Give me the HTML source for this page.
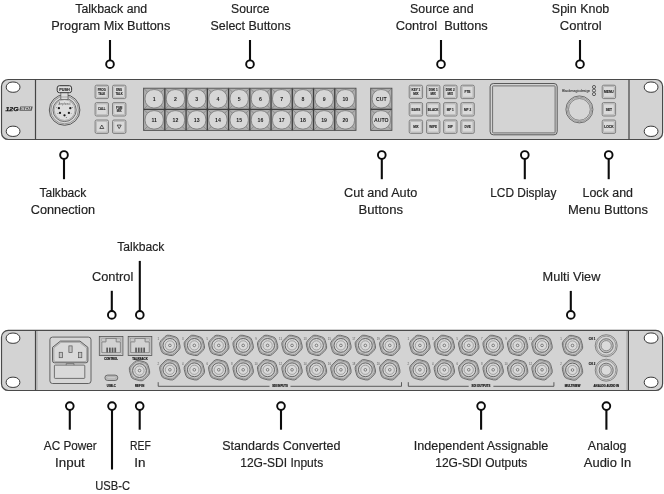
<!DOCTYPE html>
<html><head><meta charset="utf-8"><title>Front and rear panel</title>
<style>
html,body{margin:0;padding:0;background:#fff;}
body{width:664px;height:494px;overflow:hidden;font-family:"Liberation Sans",sans-serif;}
svg{display:block;will-change:transform;transform:translateZ(0);}
.lb{font-family:"Liberation Sans",sans-serif;font-size:12.5px;fill:#222;stroke:#222;stroke-width:0.18px;}
.bt{font-family:"Liberation Sans",sans-serif;font-weight:bold;fill:#1e1e1e;stroke:#1e1e1e;stroke-width:0.12px;text-anchor:middle;}
.bb{font-family:"Liberation Sans",sans-serif;font-weight:bold;fill:#1a1a1a;text-anchor:middle;}
.rt{font-family:"Liberation Sans",sans-serif;font-weight:bold;font-size:2.8px;fill:#1a1a1a;stroke:#1a1a1a;stroke-width:0.18px;text-anchor:middle;}
.nt{font-family:"Liberation Sans",sans-serif;font-size:2.8px;fill:#555;text-anchor:middle;}
</style></head><body>
<svg width="664" height="494" viewBox="0 0 664 494">
<rect width="664" height="494" fill="#fff"/>
<rect x="1.5" y="79.5" width="661.1" height="60.0" rx="6.8" fill="#d3d3d3" stroke="#4a4a4a" stroke-width="1.2"/>
<line x1="35.5" y1="79.5" x2="35.5" y2="139.5" stroke="#444" stroke-width="1.2"/>
<line x1="629.0" y1="79.5" x2="629.0" y2="139.5" stroke="#444" stroke-width="1.2"/>
<rect x="6.20" y="82.05" width="13.8" height="10.2" rx="6" ry="5.1" fill="#fff" stroke="#383838" stroke-width="1.0"/>
<rect x="6.20" y="126.20" width="13.8" height="10.2" rx="6" ry="5.1" fill="#fff" stroke="#383838" stroke-width="1.0"/>
<rect x="644.20" y="82.05" width="13.8" height="10.2" rx="6" ry="5.1" fill="#fff" stroke="#383838" stroke-width="1.0"/>
<rect x="644.20" y="126.20" width="13.8" height="10.2" rx="6" ry="5.1" fill="#fff" stroke="#383838" stroke-width="1.0"/>
<text x="5.4" y="110.9" font-size="6.1" font-weight="bold" font-style="italic" fill="#111" stroke="#111" stroke-width="0.25" textLength="13.2" lengthAdjust="spacingAndGlyphs" font-family="Liberation Sans">12G</text>
<polygon points="20.3,106.4 32.7,106.4 31.7,110.8 19.3,110.8" fill="#5a5a5a"/>
<text x="20.6" y="110.2" font-size="4.2" font-weight="bold" font-style="italic" fill="#d8d8d8" textLength="10.4" lengthAdjust="spacingAndGlyphs" font-family="Liberation Sans">SDI</text>
<circle cx="64.6" cy="110.0" r="15.3" fill="#d6d6d6" stroke="#4a4a4a" stroke-width="0.9"/>
<circle cx="64.6" cy="110.0" r="13.8" fill="#d9d9d9" stroke="#6a6a6a" stroke-width="0.6"/>
<circle cx="64.6" cy="110.0" r="11.6" fill="#d4d4d4" stroke="#555" stroke-width="0.8"/>
<circle cx="64.6" cy="110.0" r="10.4" fill="#dddddd" stroke="#808080" stroke-width="0.5"/>
<path d="M60.8,92.4 v7.1 h7.2 v-7.1" fill="#dcdcdc" stroke="#555" stroke-width="0.7"/>
<path d="M60.8,97.0 h7.2" fill="none" stroke="#777" stroke-width="0.5"/>
<rect x="57.2" y="85.7" width="14.4" height="7.0" rx="2.2" fill="#dedede" stroke="#333" stroke-width="1.0"/>
<text x="64.5" y="90.6" class="bt" font-size="3.8">PUSH</text>
<text x="64.4" y="104.5" text-anchor="middle" font-size="2.6" fill="#555" font-family="Liberation Sans">Amphenol</text>
<circle cx="58.9" cy="108.2" r="1.15" fill="#1c1c1c"/>
<circle cx="70.3" cy="108.2" r="1.15" fill="#1c1c1c"/>
<circle cx="60.0" cy="112.9" r="1.15" fill="#1c1c1c"/>
<circle cx="68.9" cy="112.9" r="1.15" fill="#1c1c1c"/>
<circle cx="64.5" cy="115.3" r="1.15" fill="#1c1c1c"/>
<text x="56.6" y="107.6" text-anchor="middle" font-size="2.2" fill="#444" font-family="Liberation Sans">1</text>
<text x="72.4" y="107.6" text-anchor="middle" font-size="2.2" fill="#444" font-family="Liberation Sans">5</text>
<text x="57.8" y="113.6" text-anchor="middle" font-size="2.2" fill="#444" font-family="Liberation Sans">2</text>
<text x="71.2" y="113.6" text-anchor="middle" font-size="2.2" fill="#444" font-family="Liberation Sans">4</text>
<text x="66.4" y="118.2" text-anchor="middle" font-size="2.2" fill="#444" font-family="Liberation Sans">3</text>
<rect x="95.10" y="85.20" width="13.4" height="13.4" rx="1.5" fill="#d2d2d2" stroke="#666" stroke-width="0.75"/>
<rect x="96.40" y="86.50" width="10.8" height="10.8" rx="0.8" fill="#dadada" stroke="#969696" stroke-width="0.45"/>
<rect x="95.10" y="102.60" width="13.4" height="13.4" rx="1.5" fill="#d2d2d2" stroke="#666" stroke-width="0.75"/>
<rect x="96.40" y="103.90" width="10.8" height="10.8" rx="0.8" fill="#dadada" stroke="#969696" stroke-width="0.45"/>
<rect x="95.10" y="120.00" width="13.4" height="13.4" rx="1.5" fill="#d2d2d2" stroke="#666" stroke-width="0.75"/>
<rect x="96.40" y="121.30" width="10.8" height="10.8" rx="0.8" fill="#dadada" stroke="#969696" stroke-width="0.45"/>
<rect x="112.50" y="85.20" width="13.4" height="13.4" rx="1.5" fill="#d2d2d2" stroke="#666" stroke-width="0.75"/>
<rect x="113.80" y="86.50" width="10.8" height="10.8" rx="0.8" fill="#dadada" stroke="#969696" stroke-width="0.45"/>
<rect x="112.50" y="102.60" width="13.4" height="13.4" rx="1.5" fill="#d2d2d2" stroke="#666" stroke-width="0.75"/>
<rect x="113.80" y="103.90" width="10.8" height="10.8" rx="0.8" fill="#dadada" stroke="#969696" stroke-width="0.45"/>
<rect x="112.50" y="120.00" width="13.4" height="13.4" rx="1.5" fill="#d2d2d2" stroke="#666" stroke-width="0.75"/>
<rect x="113.80" y="121.30" width="10.8" height="10.8" rx="0.8" fill="#dadada" stroke="#969696" stroke-width="0.45"/>
<text x="101.80" y="91.29" class="bt" font-size="3.3" transform="translate(101.80 0) scale(0.83 1) translate(-101.80 0)">PROG</text>
<text x="101.80" y="94.89" class="bt" font-size="3.3" transform="translate(101.80 0) scale(0.83 1) translate(-101.80 0)">TALK</text>
<text x="119.20" y="91.29" class="bt" font-size="3.3" transform="translate(119.20 0) scale(0.83 1) translate(-119.20 0)">ENG</text>
<text x="119.20" y="94.89" class="bt" font-size="3.3" transform="translate(119.20 0) scale(0.83 1) translate(-119.20 0)">TALK</text>
<text x="101.80" y="110.49" class="bt" font-size="3.3" transform="translate(101.80 0) scale(0.85 1) translate(-101.80 0)">CALL</text>
<text x="119.20" y="108.69" class="bt" font-size="3.3" transform="translate(119.20 0) scale(0.83 1) translate(-119.20 0)">PGM</text>
<text x="119.20" y="112.29" class="bt" font-size="3.3" transform="translate(119.20 0) scale(0.83 1) translate(-119.20 0)">MIX</text>
<path d="M101.8,125.0 l2.0,3.5 h-4.0 z" fill="none" stroke="#222" stroke-width="0.7"/>
<path d="M119.2,128.6 l2.0,-3.5 h-4.0 z" fill="none" stroke="#222" stroke-width="0.7"/>
<rect x="143.60" y="88.20" width="21.24" height="21.10" fill="#aeaeae"/>
<path d="M143.60,88.20 l21.24,21.10 M164.84,88.20 l-21.24,21.10" stroke="#6a6a6a" stroke-width="0.5" fill="none"/>
<rect x="145.10" y="89.60" width="18.24" height="18.30" rx="8.4" fill="#d6d6d6" stroke="#6c6c6c" stroke-width="0.7"/>
<text x="154.22" y="100.62" class="bb" font-size="5.2">1</text>
<rect x="164.84" y="88.20" width="21.24" height="21.10" fill="#aeaeae"/>
<path d="M164.84,88.20 l21.24,21.10 M186.08,88.20 l-21.24,21.10" stroke="#6a6a6a" stroke-width="0.5" fill="none"/>
<rect x="166.34" y="89.60" width="18.24" height="18.30" rx="8.4" fill="#d6d6d6" stroke="#6c6c6c" stroke-width="0.7"/>
<text x="175.46" y="100.62" class="bb" font-size="5.2">2</text>
<rect x="186.08" y="88.20" width="21.24" height="21.10" fill="#aeaeae"/>
<path d="M186.08,88.20 l21.24,21.10 M207.32,88.20 l-21.24,21.10" stroke="#6a6a6a" stroke-width="0.5" fill="none"/>
<rect x="187.58" y="89.60" width="18.24" height="18.30" rx="8.4" fill="#d6d6d6" stroke="#6c6c6c" stroke-width="0.7"/>
<text x="196.70" y="100.62" class="bb" font-size="5.2">3</text>
<rect x="207.32" y="88.20" width="21.24" height="21.10" fill="#aeaeae"/>
<path d="M207.32,88.20 l21.24,21.10 M228.56,88.20 l-21.24,21.10" stroke="#6a6a6a" stroke-width="0.5" fill="none"/>
<rect x="208.82" y="89.60" width="18.24" height="18.30" rx="8.4" fill="#d6d6d6" stroke="#6c6c6c" stroke-width="0.7"/>
<text x="217.94" y="100.62" class="bb" font-size="5.2">4</text>
<rect x="228.56" y="88.20" width="21.24" height="21.10" fill="#aeaeae"/>
<path d="M228.56,88.20 l21.24,21.10 M249.80,88.20 l-21.24,21.10" stroke="#6a6a6a" stroke-width="0.5" fill="none"/>
<rect x="230.06" y="89.60" width="18.24" height="18.30" rx="8.4" fill="#d6d6d6" stroke="#6c6c6c" stroke-width="0.7"/>
<text x="239.18" y="100.62" class="bb" font-size="5.2">5</text>
<rect x="249.80" y="88.20" width="21.24" height="21.10" fill="#aeaeae"/>
<path d="M249.80,88.20 l21.24,21.10 M271.04,88.20 l-21.24,21.10" stroke="#6a6a6a" stroke-width="0.5" fill="none"/>
<rect x="251.30" y="89.60" width="18.24" height="18.30" rx="8.4" fill="#d6d6d6" stroke="#6c6c6c" stroke-width="0.7"/>
<text x="260.42" y="100.62" class="bb" font-size="5.2">6</text>
<rect x="271.04" y="88.20" width="21.24" height="21.10" fill="#aeaeae"/>
<path d="M271.04,88.20 l21.24,21.10 M292.28,88.20 l-21.24,21.10" stroke="#6a6a6a" stroke-width="0.5" fill="none"/>
<rect x="272.54" y="89.60" width="18.24" height="18.30" rx="8.4" fill="#d6d6d6" stroke="#6c6c6c" stroke-width="0.7"/>
<text x="281.66" y="100.62" class="bb" font-size="5.2">7</text>
<rect x="292.28" y="88.20" width="21.24" height="21.10" fill="#aeaeae"/>
<path d="M292.28,88.20 l21.24,21.10 M313.52,88.20 l-21.24,21.10" stroke="#6a6a6a" stroke-width="0.5" fill="none"/>
<rect x="293.78" y="89.60" width="18.24" height="18.30" rx="8.4" fill="#d6d6d6" stroke="#6c6c6c" stroke-width="0.7"/>
<text x="302.90" y="100.62" class="bb" font-size="5.2">8</text>
<rect x="313.52" y="88.20" width="21.24" height="21.10" fill="#aeaeae"/>
<path d="M313.52,88.20 l21.24,21.10 M334.76,88.20 l-21.24,21.10" stroke="#6a6a6a" stroke-width="0.5" fill="none"/>
<rect x="315.02" y="89.60" width="18.24" height="18.30" rx="8.4" fill="#d6d6d6" stroke="#6c6c6c" stroke-width="0.7"/>
<text x="324.14" y="100.62" class="bb" font-size="5.2">9</text>
<rect x="334.76" y="88.20" width="21.24" height="21.10" fill="#aeaeae"/>
<path d="M334.76,88.20 l21.24,21.10 M356.00,88.20 l-21.24,21.10" stroke="#6a6a6a" stroke-width="0.5" fill="none"/>
<rect x="336.26" y="89.60" width="18.24" height="18.30" rx="8.4" fill="#d6d6d6" stroke="#6c6c6c" stroke-width="0.7"/>
<text x="345.38" y="100.62" class="bb" font-size="5.2">10</text>
<rect x="143.60" y="109.30" width="21.24" height="21.10" fill="#aeaeae"/>
<path d="M143.60,109.30 l21.24,21.10 M164.84,109.30 l-21.24,21.10" stroke="#6a6a6a" stroke-width="0.5" fill="none"/>
<rect x="145.10" y="110.70" width="18.24" height="18.30" rx="8.4" fill="#d6d6d6" stroke="#6c6c6c" stroke-width="0.7"/>
<text x="154.22" y="121.72" class="bb" font-size="5.2">11</text>
<rect x="164.84" y="109.30" width="21.24" height="21.10" fill="#aeaeae"/>
<path d="M164.84,109.30 l21.24,21.10 M186.08,109.30 l-21.24,21.10" stroke="#6a6a6a" stroke-width="0.5" fill="none"/>
<rect x="166.34" y="110.70" width="18.24" height="18.30" rx="8.4" fill="#d6d6d6" stroke="#6c6c6c" stroke-width="0.7"/>
<text x="175.46" y="121.72" class="bb" font-size="5.2">12</text>
<rect x="186.08" y="109.30" width="21.24" height="21.10" fill="#aeaeae"/>
<path d="M186.08,109.30 l21.24,21.10 M207.32,109.30 l-21.24,21.10" stroke="#6a6a6a" stroke-width="0.5" fill="none"/>
<rect x="187.58" y="110.70" width="18.24" height="18.30" rx="8.4" fill="#d6d6d6" stroke="#6c6c6c" stroke-width="0.7"/>
<text x="196.70" y="121.72" class="bb" font-size="5.2">13</text>
<rect x="207.32" y="109.30" width="21.24" height="21.10" fill="#aeaeae"/>
<path d="M207.32,109.30 l21.24,21.10 M228.56,109.30 l-21.24,21.10" stroke="#6a6a6a" stroke-width="0.5" fill="none"/>
<rect x="208.82" y="110.70" width="18.24" height="18.30" rx="8.4" fill="#d6d6d6" stroke="#6c6c6c" stroke-width="0.7"/>
<text x="217.94" y="121.72" class="bb" font-size="5.2">14</text>
<rect x="228.56" y="109.30" width="21.24" height="21.10" fill="#aeaeae"/>
<path d="M228.56,109.30 l21.24,21.10 M249.80,109.30 l-21.24,21.10" stroke="#6a6a6a" stroke-width="0.5" fill="none"/>
<rect x="230.06" y="110.70" width="18.24" height="18.30" rx="8.4" fill="#d6d6d6" stroke="#6c6c6c" stroke-width="0.7"/>
<text x="239.18" y="121.72" class="bb" font-size="5.2">15</text>
<rect x="249.80" y="109.30" width="21.24" height="21.10" fill="#aeaeae"/>
<path d="M249.80,109.30 l21.24,21.10 M271.04,109.30 l-21.24,21.10" stroke="#6a6a6a" stroke-width="0.5" fill="none"/>
<rect x="251.30" y="110.70" width="18.24" height="18.30" rx="8.4" fill="#d6d6d6" stroke="#6c6c6c" stroke-width="0.7"/>
<text x="260.42" y="121.72" class="bb" font-size="5.2">16</text>
<rect x="271.04" y="109.30" width="21.24" height="21.10" fill="#aeaeae"/>
<path d="M271.04,109.30 l21.24,21.10 M292.28,109.30 l-21.24,21.10" stroke="#6a6a6a" stroke-width="0.5" fill="none"/>
<rect x="272.54" y="110.70" width="18.24" height="18.30" rx="8.4" fill="#d6d6d6" stroke="#6c6c6c" stroke-width="0.7"/>
<text x="281.66" y="121.72" class="bb" font-size="5.2">17</text>
<rect x="292.28" y="109.30" width="21.24" height="21.10" fill="#aeaeae"/>
<path d="M292.28,109.30 l21.24,21.10 M313.52,109.30 l-21.24,21.10" stroke="#6a6a6a" stroke-width="0.5" fill="none"/>
<rect x="293.78" y="110.70" width="18.24" height="18.30" rx="8.4" fill="#d6d6d6" stroke="#6c6c6c" stroke-width="0.7"/>
<text x="302.90" y="121.72" class="bb" font-size="5.2">18</text>
<rect x="313.52" y="109.30" width="21.24" height="21.10" fill="#aeaeae"/>
<path d="M313.52,109.30 l21.24,21.10 M334.76,109.30 l-21.24,21.10" stroke="#6a6a6a" stroke-width="0.5" fill="none"/>
<rect x="315.02" y="110.70" width="18.24" height="18.30" rx="8.4" fill="#d6d6d6" stroke="#6c6c6c" stroke-width="0.7"/>
<text x="324.14" y="121.72" class="bb" font-size="5.2">19</text>
<rect x="334.76" y="109.30" width="21.24" height="21.10" fill="#aeaeae"/>
<path d="M334.76,109.30 l21.24,21.10 M356.00,109.30 l-21.24,21.10" stroke="#6a6a6a" stroke-width="0.5" fill="none"/>
<rect x="336.26" y="110.70" width="18.24" height="18.30" rx="8.4" fill="#d6d6d6" stroke="#6c6c6c" stroke-width="0.7"/>
<text x="345.38" y="121.72" class="bb" font-size="5.2">20</text>
<path d="M164.84,88.2 V130.4 M186.08,88.2 V130.4 M207.32,88.2 V130.4 M228.56,88.2 V130.4 M249.80,88.2 V130.4 M271.04,88.2 V130.4 M292.28,88.2 V130.4 M313.52,88.2 V130.4 M334.76,88.2 V130.4 M143.6,109.3 H356.0" stroke="#3e3e3e" stroke-width="1.3" fill="none"/>
<rect x="143.6" y="88.2" width="212.40" height="42.20" fill="none" stroke="#505050" stroke-width="0.9"/>
<rect x="370.70" y="88.20" width="21.20" height="21.10" fill="#aeaeae"/>
<path d="M370.70,88.20 l21.20,21.10 M391.90,88.20 l-21.20,21.10" stroke="#6a6a6a" stroke-width="0.5" fill="none"/>
<rect x="372.20" y="89.60" width="18.20" height="18.30" rx="8.4" fill="#d6d6d6" stroke="#6c6c6c" stroke-width="0.7"/>
<text x="381.30" y="100.62" class="bb" font-size="5.2">CUT</text>
<rect x="370.70" y="109.30" width="21.20" height="21.10" fill="#aeaeae"/>
<path d="M370.70,109.30 l21.20,21.10 M391.90,109.30 l-21.20,21.10" stroke="#6a6a6a" stroke-width="0.5" fill="none"/>
<rect x="372.20" y="110.70" width="18.20" height="18.30" rx="8.4" fill="#d6d6d6" stroke="#6c6c6c" stroke-width="0.7"/>
<text x="381.30" y="121.72" class="bb" font-size="5.2">AUTO</text>
<path d="M370.7,109.3 h21.2" stroke="#3e3e3e" stroke-width="1.3" fill="none"/>
<rect x="370.7" y="88.2" width="21.2" height="42.20" fill="none" stroke="#505050" stroke-width="0.9"/>
<rect x="409.20" y="85.20" width="13.4" height="13.4" rx="1.5" fill="#d2d2d2" stroke="#666" stroke-width="0.75"/>
<rect x="410.50" y="86.50" width="10.8" height="10.8" rx="0.8" fill="#dadada" stroke="#969696" stroke-width="0.45"/>
<text x="415.90" y="91.32" class="bt" font-size="3.4" transform="translate(415.90 0) scale(0.9 1) translate(-415.90 0)">KEY 1</text>
<text x="415.90" y="94.92" class="bt" font-size="3.4" transform="translate(415.90 0) scale(0.9 1) translate(-415.90 0)">MIX</text>
<rect x="426.50" y="85.20" width="13.4" height="13.4" rx="1.5" fill="#d2d2d2" stroke="#666" stroke-width="0.75"/>
<rect x="427.80" y="86.50" width="10.8" height="10.8" rx="0.8" fill="#dadada" stroke="#969696" stroke-width="0.45"/>
<text x="433.20" y="91.32" class="bt" font-size="3.4" transform="translate(433.20 0) scale(0.9 1) translate(-433.20 0)">DSK 1</text>
<text x="433.20" y="94.92" class="bt" font-size="3.4" transform="translate(433.20 0) scale(0.9 1) translate(-433.20 0)">MIX</text>
<rect x="443.60" y="85.20" width="13.4" height="13.4" rx="1.5" fill="#d2d2d2" stroke="#666" stroke-width="0.75"/>
<rect x="444.90" y="86.50" width="10.8" height="10.8" rx="0.8" fill="#dadada" stroke="#969696" stroke-width="0.45"/>
<text x="450.30" y="91.32" class="bt" font-size="3.4" transform="translate(450.30 0) scale(0.9 1) translate(-450.30 0)">DSK 2</text>
<text x="450.30" y="94.92" class="bt" font-size="3.4" transform="translate(450.30 0) scale(0.9 1) translate(-450.30 0)">MIX</text>
<rect x="460.90" y="85.20" width="13.4" height="13.4" rx="1.5" fill="#d2d2d2" stroke="#666" stroke-width="0.75"/>
<rect x="462.20" y="86.50" width="10.8" height="10.8" rx="0.8" fill="#dadada" stroke="#969696" stroke-width="0.45"/>
<text x="467.60" y="93.12" class="bt" font-size="3.4" transform="translate(467.60 0) scale(0.9 1) translate(-467.60 0)">FTB</text>
<rect x="409.20" y="102.60" width="13.4" height="13.4" rx="1.5" fill="#d2d2d2" stroke="#666" stroke-width="0.75"/>
<rect x="410.50" y="103.90" width="10.8" height="10.8" rx="0.8" fill="#dadada" stroke="#969696" stroke-width="0.45"/>
<text x="415.90" y="110.52" class="bt" font-size="3.4" transform="translate(415.90 0) scale(0.9 1) translate(-415.90 0)">BARS</text>
<rect x="426.50" y="102.60" width="13.4" height="13.4" rx="1.5" fill="#d2d2d2" stroke="#666" stroke-width="0.75"/>
<rect x="427.80" y="103.90" width="10.8" height="10.8" rx="0.8" fill="#dadada" stroke="#969696" stroke-width="0.45"/>
<text x="433.20" y="110.52" class="bt" font-size="3.4" transform="translate(433.20 0) scale(0.9 1) translate(-433.20 0)">BLACK</text>
<rect x="443.60" y="102.60" width="13.4" height="13.4" rx="1.5" fill="#d2d2d2" stroke="#666" stroke-width="0.75"/>
<rect x="444.90" y="103.90" width="10.8" height="10.8" rx="0.8" fill="#dadada" stroke="#969696" stroke-width="0.45"/>
<text x="450.30" y="110.52" class="bt" font-size="3.4" transform="translate(450.30 0) scale(0.9 1) translate(-450.30 0)">MP 1</text>
<rect x="460.90" y="102.60" width="13.4" height="13.4" rx="1.5" fill="#d2d2d2" stroke="#666" stroke-width="0.75"/>
<rect x="462.20" y="103.90" width="10.8" height="10.8" rx="0.8" fill="#dadada" stroke="#969696" stroke-width="0.45"/>
<text x="467.60" y="110.52" class="bt" font-size="3.4" transform="translate(467.60 0) scale(0.9 1) translate(-467.60 0)">MP 2</text>
<rect x="409.20" y="120.00" width="13.4" height="13.4" rx="1.5" fill="#d2d2d2" stroke="#666" stroke-width="0.75"/>
<rect x="410.50" y="121.30" width="10.8" height="10.8" rx="0.8" fill="#dadada" stroke="#969696" stroke-width="0.45"/>
<text x="415.90" y="127.92" class="bt" font-size="3.4" transform="translate(415.90 0) scale(0.9 1) translate(-415.90 0)">MIX</text>
<rect x="426.50" y="120.00" width="13.4" height="13.4" rx="1.5" fill="#d2d2d2" stroke="#666" stroke-width="0.75"/>
<rect x="427.80" y="121.30" width="10.8" height="10.8" rx="0.8" fill="#dadada" stroke="#969696" stroke-width="0.45"/>
<text x="433.20" y="127.92" class="bt" font-size="3.4" transform="translate(433.20 0) scale(0.9 1) translate(-433.20 0)">WIPE</text>
<rect x="443.60" y="120.00" width="13.4" height="13.4" rx="1.5" fill="#d2d2d2" stroke="#666" stroke-width="0.75"/>
<rect x="444.90" y="121.30" width="10.8" height="10.8" rx="0.8" fill="#dadada" stroke="#969696" stroke-width="0.45"/>
<text x="450.30" y="127.92" class="bt" font-size="3.4" transform="translate(450.30 0) scale(0.9 1) translate(-450.30 0)">DIP</text>
<rect x="460.90" y="120.00" width="13.4" height="13.4" rx="1.5" fill="#d2d2d2" stroke="#666" stroke-width="0.75"/>
<rect x="462.20" y="121.30" width="10.8" height="10.8" rx="0.8" fill="#dadada" stroke="#969696" stroke-width="0.45"/>
<text x="467.60" y="127.92" class="bt" font-size="3.4" transform="translate(467.60 0) scale(0.9 1) translate(-467.60 0)">DVE</text>
<rect x="490.1" y="83.5" width="67.1" height="51.3" rx="3.2" fill="#d2d2d2" stroke="#4c4c4c" stroke-width="0.9"/>
<rect x="492.6" y="85.9" width="62.5" height="47.0" rx="0.7" fill="#d4d4d4" stroke="#555" stroke-width="0.8"/>
<text x="562" y="92.0" font-size="4.4" fill="#333" stroke="#333" stroke-width="0.08" textLength="28.3" lengthAdjust="spacingAndGlyphs" font-family="Liberation Sans">Blackmagicdesign</text>
<circle cx="594.0" cy="87.0" r="1.55" fill="#dcdcdc" stroke="#333" stroke-width="0.75"/>
<circle cx="594.0" cy="90.55" r="1.55" fill="#dcdcdc" stroke="#333" stroke-width="0.75"/>
<circle cx="594.0" cy="94.1" r="1.55" fill="#dcdcdc" stroke="#333" stroke-width="0.75"/>
<circle cx="579.4" cy="109.4" r="13.5" fill="#d2d2d2" stroke="#555" stroke-width="0.8"/>
<circle cx="579.4" cy="109.4" r="12.3" fill="#d0d0d0" stroke="#777" stroke-width="0.6"/>
<circle cx="579.4" cy="109.4" r="10.9" fill="#d6d6d6" stroke="#666" stroke-width="0.7"/>
<rect x="602.20" y="85.20" width="13.4" height="13.4" rx="1.5" fill="#d2d2d2" stroke="#666" stroke-width="0.75"/>
<rect x="603.50" y="86.50" width="10.8" height="10.8" rx="0.8" fill="#dadada" stroke="#969696" stroke-width="0.45"/>
<text x="608.90" y="93.12" class="bt" font-size="3.4" transform="translate(608.90 0) scale(0.97 1) translate(-608.90 0)">MENU</text>
<rect x="602.20" y="102.60" width="13.4" height="13.4" rx="1.5" fill="#d2d2d2" stroke="#666" stroke-width="0.75"/>
<rect x="603.50" y="103.90" width="10.8" height="10.8" rx="0.8" fill="#dadada" stroke="#969696" stroke-width="0.45"/>
<text x="608.90" y="110.52" class="bt" font-size="3.4" transform="translate(608.90 0) scale(0.97 1) translate(-608.90 0)">SET</text>
<rect x="602.20" y="120.00" width="13.4" height="13.4" rx="1.5" fill="#d2d2d2" stroke="#666" stroke-width="0.75"/>
<rect x="603.50" y="121.30" width="10.8" height="10.8" rx="0.8" fill="#dadada" stroke="#969696" stroke-width="0.45"/>
<text x="608.90" y="127.92" class="bt" font-size="3.4" transform="translate(608.90 0) scale(0.97 1) translate(-608.90 0)">LOCK</text>
<rect x="1.5" y="330.4" width="661.1" height="60.10000000000002" rx="6.8" fill="#d3d3d3" stroke="#4a4a4a" stroke-width="1.2"/>
<line x1="35.5" y1="330.4" x2="35.5" y2="390.5" stroke="#444" stroke-width="1.2"/>
<line x1="628.4" y1="330.4" x2="628.4" y2="390.5" stroke="#444" stroke-width="1.2"/>
<line x1="37.0" y1="331.0" x2="37.0" y2="389.9" stroke="#8a8a8a" stroke-width="0.6"/>
<line x1="626.9" y1="331.0" x2="626.9" y2="389.9" stroke="#8a8a8a" stroke-width="0.6"/>
<rect x="6.10" y="333.10" width="13.8" height="10.2" rx="6" ry="5.1" fill="#fff" stroke="#383838" stroke-width="1.0"/>
<rect x="6.10" y="377.20" width="13.8" height="10.2" rx="6" ry="5.1" fill="#fff" stroke="#383838" stroke-width="1.0"/>
<rect x="644.20" y="333.00" width="13.8" height="10.2" rx="6" ry="5.1" fill="#fff" stroke="#383838" stroke-width="1.0"/>
<rect x="644.20" y="377.20" width="13.8" height="10.2" rx="6" ry="5.1" fill="#fff" stroke="#383838" stroke-width="1.0"/>
<rect x="49.9" y="337.1" width="41.1" height="46.4" rx="2.6" fill="#d6d6d6" stroke="#555" stroke-width="0.9"/>
<path d="M52.5,347.3 l7.9,-6.2 h19.6 l7.9,6.2 v13.5 q0,2 -2,2 h-31.4 q-2,0 -2,-2 z" fill="#c4c4c4" stroke="#555" stroke-width="0.9" stroke-linejoin="round"/>
<path d="M53.9,347.9 l7.0,-5.5 h18.6 l7.0,5.5 v12.2 q0,1.4 -1.4,1.4 h-29.8 q-1.4,0 -1.4,-1.4 z" fill="#d9d9d9" stroke="#8a8a8a" stroke-width="0.5" stroke-linejoin="round"/>
<rect x="59.2" y="352.3" width="3.4" height="5.4" fill="#c4c4c4" stroke="#555" stroke-width="0.7"/>
<rect x="68.9" y="345.9" width="3.2" height="6.7" fill="#c4c4c4" stroke="#555" stroke-width="0.7"/>
<rect x="78.4" y="352.3" width="3.4" height="5.4" fill="#c4c4c4" stroke="#555" stroke-width="0.7"/>
<rect x="54.4" y="365.1" width="30.4" height="13.3" rx="0.8" fill="#d9d9d9" stroke="#555" stroke-width="0.8"/>
<path d="M66.2,365.1 v-1.5 h7.8 v1.5" fill="none" stroke="#555" stroke-width="0.6"/>
<rect x="99.3" y="336.5" width="23.6" height="19.0" fill="#d8d8d8" stroke="#505050" stroke-width="0.8"/>
<rect x="100.6" y="337.8" width="21.0" height="16.4" fill="none" stroke="#999" stroke-width="0.4"/>
<path d="M101.8,352.7 v-10.8 h4.2 v-3.4 h10.2 v3.4 h4.2 v10.8 z" fill="#d2d2d2" stroke="#666" stroke-width="0.7"/>
<rect x="101.8" y="338.7" width="4.0" height="2.9" fill="#c8c8c8" stroke="#777" stroke-width="0.4"/>
<rect x="116.4" y="338.7" width="4.0" height="2.9" fill="#c8c8c8" stroke="#777" stroke-width="0.4"/>
<rect x="106.30" y="347.6" width="1.7" height="4.9" fill="#5a5a5a"/>
<rect x="109.00" y="347.6" width="1.7" height="4.9" fill="#5a5a5a"/>
<rect x="111.70" y="347.6" width="1.7" height="4.9" fill="#5a5a5a"/>
<rect x="114.40" y="347.6" width="1.7" height="4.9" fill="#5a5a5a"/>
<rect x="128.2" y="336.5" width="23.6" height="19.0" fill="#d8d8d8" stroke="#505050" stroke-width="0.8"/>
<rect x="129.5" y="337.8" width="21.0" height="16.4" fill="none" stroke="#999" stroke-width="0.4"/>
<path d="M130.7,352.7 v-10.8 h4.2 v-3.4 h10.2 v3.4 h4.2 v10.8 z" fill="#d2d2d2" stroke="#666" stroke-width="0.7"/>
<rect x="130.7" y="338.7" width="4.0" height="2.9" fill="#c8c8c8" stroke="#777" stroke-width="0.4"/>
<rect x="145.29999999999998" y="338.7" width="4.0" height="2.9" fill="#c8c8c8" stroke="#777" stroke-width="0.4"/>
<rect x="135.20" y="347.6" width="1.7" height="4.9" fill="#5a5a5a"/>
<rect x="137.90" y="347.6" width="1.7" height="4.9" fill="#5a5a5a"/>
<rect x="140.60" y="347.6" width="1.7" height="4.9" fill="#5a5a5a"/>
<rect x="143.30" y="347.6" width="1.7" height="4.9" fill="#5a5a5a"/>
<text x="111.1" y="359.7" class="rt">CONTROL</text>
<text x="140.0" y="359.7" class="rt">TALKBACK</text>
<rect x="104.9" y="375.1" width="12.9" height="5.4" rx="2.7" fill="#bdbdbd" stroke="#555" stroke-width="0.8"/>
<rect x="106.8" y="376.9" width="9.1" height="1.8" rx="0.9" fill="#d2d2d2" stroke="#888" stroke-width="0.3"/>
<text x="111.3" y="387.1" class="rt">USB-C</text>
<path d="M149.59,370.79 Q150.32,373.50 148.34,375.48 L144.38,379.44 Q142.40,381.42 139.69,380.69 L134.28,379.24 Q131.58,378.52 130.86,375.82 L129.41,370.41 Q128.68,367.70 130.66,365.72 L134.62,361.76 Q136.60,359.78 139.31,360.51 L144.72,361.96 Q147.42,362.68 148.14,365.38 Z" fill="#bfbfbf" stroke="#636363" stroke-width="0.9"/>
<path d="M148.51,370.77 Q149.16,373.19 147.39,374.96 L143.86,378.49 Q142.09,380.26 139.67,379.61 L134.84,378.32 Q132.43,377.67 131.78,375.26 L130.49,370.43 Q129.84,368.01 131.61,366.24 L135.14,362.71 Q136.91,360.94 139.33,361.59 L144.16,362.88 Q146.57,363.53 147.22,365.94 Z" fill="#c4c4c4" stroke="#787878" stroke-width="0.6"/>
<circle cx="139.5" cy="370.6" r="6.9" fill="#d5d5d5" stroke="#666" stroke-width="1.0"/>
<circle cx="139.5" cy="370.6" r="4.6" fill="#d9d9d9" stroke="#808080" stroke-width="0.6"/>
<circle cx="139.5" cy="370.6" r="1.3" fill="#e6e6e6" stroke="#555" stroke-width="0.7"/>
<text x="139.6" y="387.1" class="rt">REF IN</text>
<path d="M179.99,345.59 Q180.72,348.30 178.74,350.28 L174.78,354.24 Q172.80,356.22 170.09,355.49 L164.68,354.04 Q161.98,353.32 161.26,350.62 L159.81,345.21 Q159.08,342.50 161.06,340.52 L165.02,336.56 Q167.00,334.58 169.71,335.31 L175.12,336.76 Q177.82,337.48 178.54,340.18 Z" fill="#bfbfbf" stroke="#636363" stroke-width="0.9"/>
<path d="M178.91,345.57 Q179.56,347.99 177.79,349.76 L174.26,353.29 Q172.49,355.06 170.07,354.41 L165.24,353.12 Q162.83,352.47 162.18,350.06 L160.89,345.23 Q160.24,342.81 162.01,341.04 L165.54,337.51 Q167.31,335.74 169.73,336.39 L174.56,337.68 Q176.97,338.33 177.62,340.74 Z" fill="#c4c4c4" stroke="#787878" stroke-width="0.6"/>
<circle cx="169.9" cy="345.4" r="6.9" fill="#d5d5d5" stroke="#666" stroke-width="1.0"/>
<circle cx="169.9" cy="345.4" r="4.6" fill="#d9d9d9" stroke="#808080" stroke-width="0.6"/>
<circle cx="169.9" cy="345.4" r="1.3" fill="#e6e6e6" stroke="#555" stroke-width="0.7"/>
<text x="158.40" y="340.10" class="nt">1</text>
<path d="M179.99,369.99 Q180.72,372.70 178.74,374.68 L174.78,378.64 Q172.80,380.62 170.09,379.89 L164.68,378.44 Q161.98,377.72 161.26,375.02 L159.81,369.61 Q159.08,366.90 161.06,364.92 L165.02,360.96 Q167.00,358.98 169.71,359.71 L175.12,361.16 Q177.82,361.88 178.54,364.58 Z" fill="#bfbfbf" stroke="#636363" stroke-width="0.9"/>
<path d="M178.91,369.97 Q179.56,372.39 177.79,374.16 L174.26,377.69 Q172.49,379.46 170.07,378.81 L165.24,377.52 Q162.83,376.87 162.18,374.46 L160.89,369.63 Q160.24,367.21 162.01,365.44 L165.54,361.91 Q167.31,360.14 169.73,360.79 L174.56,362.08 Q176.97,362.73 177.62,365.14 Z" fill="#c4c4c4" stroke="#787878" stroke-width="0.6"/>
<circle cx="169.9" cy="369.8" r="6.9" fill="#d5d5d5" stroke="#666" stroke-width="1.0"/>
<circle cx="169.9" cy="369.8" r="4.6" fill="#d9d9d9" stroke="#808080" stroke-width="0.6"/>
<circle cx="169.9" cy="369.8" r="1.3" fill="#e6e6e6" stroke="#555" stroke-width="0.7"/>
<text x="158.40" y="364.50" class="nt">2</text>
<path d="M204.42,345.59 Q205.15,348.30 203.17,350.28 L199.21,354.24 Q197.23,356.22 194.52,355.49 L189.11,354.04 Q186.41,353.32 185.69,350.62 L184.24,345.21 Q183.51,342.50 185.49,340.52 L189.45,336.56 Q191.43,334.58 194.14,335.31 L199.55,336.76 Q202.25,337.48 202.97,340.18 Z" fill="#bfbfbf" stroke="#636363" stroke-width="0.9"/>
<path d="M203.34,345.57 Q203.99,347.99 202.22,349.76 L198.69,353.29 Q196.92,355.06 194.50,354.41 L189.67,353.12 Q187.26,352.47 186.61,350.06 L185.32,345.23 Q184.67,342.81 186.44,341.04 L189.97,337.51 Q191.74,335.74 194.16,336.39 L198.99,337.68 Q201.40,338.33 202.05,340.74 Z" fill="#c4c4c4" stroke="#787878" stroke-width="0.6"/>
<circle cx="194.33" cy="345.4" r="6.9" fill="#d5d5d5" stroke="#666" stroke-width="1.0"/>
<circle cx="194.33" cy="345.4" r="4.6" fill="#d9d9d9" stroke="#808080" stroke-width="0.6"/>
<circle cx="194.33" cy="345.4" r="1.3" fill="#e6e6e6" stroke="#555" stroke-width="0.7"/>
<text x="182.83" y="340.10" class="nt">3</text>
<path d="M204.42,369.99 Q205.15,372.70 203.17,374.68 L199.21,378.64 Q197.23,380.62 194.52,379.89 L189.11,378.44 Q186.41,377.72 185.69,375.02 L184.24,369.61 Q183.51,366.90 185.49,364.92 L189.45,360.96 Q191.43,358.98 194.14,359.71 L199.55,361.16 Q202.25,361.88 202.97,364.58 Z" fill="#bfbfbf" stroke="#636363" stroke-width="0.9"/>
<path d="M203.34,369.97 Q203.99,372.39 202.22,374.16 L198.69,377.69 Q196.92,379.46 194.50,378.81 L189.67,377.52 Q187.26,376.87 186.61,374.46 L185.32,369.63 Q184.67,367.21 186.44,365.44 L189.97,361.91 Q191.74,360.14 194.16,360.79 L198.99,362.08 Q201.40,362.73 202.05,365.14 Z" fill="#c4c4c4" stroke="#787878" stroke-width="0.6"/>
<circle cx="194.33" cy="369.8" r="6.9" fill="#d5d5d5" stroke="#666" stroke-width="1.0"/>
<circle cx="194.33" cy="369.8" r="4.6" fill="#d9d9d9" stroke="#808080" stroke-width="0.6"/>
<circle cx="194.33" cy="369.8" r="1.3" fill="#e6e6e6" stroke="#555" stroke-width="0.7"/>
<text x="182.83" y="364.50" class="nt">4</text>
<path d="M228.85,345.59 Q229.58,348.30 227.60,350.28 L223.64,354.24 Q221.66,356.22 218.95,355.49 L213.54,354.04 Q210.84,353.32 210.12,350.62 L208.67,345.21 Q207.94,342.50 209.92,340.52 L213.88,336.56 Q215.86,334.58 218.57,335.31 L223.98,336.76 Q226.68,337.48 227.40,340.18 Z" fill="#bfbfbf" stroke="#636363" stroke-width="0.9"/>
<path d="M227.77,345.57 Q228.42,347.99 226.65,349.76 L223.12,353.29 Q221.35,355.06 218.93,354.41 L214.10,353.12 Q211.69,352.47 211.04,350.06 L209.75,345.23 Q209.10,342.81 210.87,341.04 L214.40,337.51 Q216.17,335.74 218.59,336.39 L223.42,337.68 Q225.83,338.33 226.48,340.74 Z" fill="#c4c4c4" stroke="#787878" stroke-width="0.6"/>
<circle cx="218.76" cy="345.4" r="6.9" fill="#d5d5d5" stroke="#666" stroke-width="1.0"/>
<circle cx="218.76" cy="345.4" r="4.6" fill="#d9d9d9" stroke="#808080" stroke-width="0.6"/>
<circle cx="218.76" cy="345.4" r="1.3" fill="#e6e6e6" stroke="#555" stroke-width="0.7"/>
<text x="207.26" y="340.10" class="nt">5</text>
<path d="M228.85,369.99 Q229.58,372.70 227.60,374.68 L223.64,378.64 Q221.66,380.62 218.95,379.89 L213.54,378.44 Q210.84,377.72 210.12,375.02 L208.67,369.61 Q207.94,366.90 209.92,364.92 L213.88,360.96 Q215.86,358.98 218.57,359.71 L223.98,361.16 Q226.68,361.88 227.40,364.58 Z" fill="#bfbfbf" stroke="#636363" stroke-width="0.9"/>
<path d="M227.77,369.97 Q228.42,372.39 226.65,374.16 L223.12,377.69 Q221.35,379.46 218.93,378.81 L214.10,377.52 Q211.69,376.87 211.04,374.46 L209.75,369.63 Q209.10,367.21 210.87,365.44 L214.40,361.91 Q216.17,360.14 218.59,360.79 L223.42,362.08 Q225.83,362.73 226.48,365.14 Z" fill="#c4c4c4" stroke="#787878" stroke-width="0.6"/>
<circle cx="218.76" cy="369.8" r="6.9" fill="#d5d5d5" stroke="#666" stroke-width="1.0"/>
<circle cx="218.76" cy="369.8" r="4.6" fill="#d9d9d9" stroke="#808080" stroke-width="0.6"/>
<circle cx="218.76" cy="369.8" r="1.3" fill="#e6e6e6" stroke="#555" stroke-width="0.7"/>
<text x="207.26" y="364.50" class="nt">6</text>
<path d="M253.28,345.59 Q254.01,348.30 252.03,350.28 L248.07,354.24 Q246.09,356.22 243.38,355.49 L237.97,354.04 Q235.27,353.32 234.55,350.62 L233.10,345.21 Q232.37,342.50 234.35,340.52 L238.31,336.56 Q240.29,334.58 243.00,335.31 L248.41,336.76 Q251.11,337.48 251.83,340.18 Z" fill="#bfbfbf" stroke="#636363" stroke-width="0.9"/>
<path d="M252.20,345.57 Q252.85,347.99 251.08,349.76 L247.55,353.29 Q245.78,355.06 243.36,354.41 L238.53,353.12 Q236.12,352.47 235.47,350.06 L234.18,345.23 Q233.53,342.81 235.30,341.04 L238.83,337.51 Q240.60,335.74 243.02,336.39 L247.85,337.68 Q250.26,338.33 250.91,340.74 Z" fill="#c4c4c4" stroke="#787878" stroke-width="0.6"/>
<circle cx="243.19" cy="345.4" r="6.9" fill="#d5d5d5" stroke="#666" stroke-width="1.0"/>
<circle cx="243.19" cy="345.4" r="4.6" fill="#d9d9d9" stroke="#808080" stroke-width="0.6"/>
<circle cx="243.19" cy="345.4" r="1.3" fill="#e6e6e6" stroke="#555" stroke-width="0.7"/>
<text x="231.69" y="340.10" class="nt">7</text>
<path d="M253.28,369.99 Q254.01,372.70 252.03,374.68 L248.07,378.64 Q246.09,380.62 243.38,379.89 L237.97,378.44 Q235.27,377.72 234.55,375.02 L233.10,369.61 Q232.37,366.90 234.35,364.92 L238.31,360.96 Q240.29,358.98 243.00,359.71 L248.41,361.16 Q251.11,361.88 251.83,364.58 Z" fill="#bfbfbf" stroke="#636363" stroke-width="0.9"/>
<path d="M252.20,369.97 Q252.85,372.39 251.08,374.16 L247.55,377.69 Q245.78,379.46 243.36,378.81 L238.53,377.52 Q236.12,376.87 235.47,374.46 L234.18,369.63 Q233.53,367.21 235.30,365.44 L238.83,361.91 Q240.60,360.14 243.02,360.79 L247.85,362.08 Q250.26,362.73 250.91,365.14 Z" fill="#c4c4c4" stroke="#787878" stroke-width="0.6"/>
<circle cx="243.19" cy="369.8" r="6.9" fill="#d5d5d5" stroke="#666" stroke-width="1.0"/>
<circle cx="243.19" cy="369.8" r="4.6" fill="#d9d9d9" stroke="#808080" stroke-width="0.6"/>
<circle cx="243.19" cy="369.8" r="1.3" fill="#e6e6e6" stroke="#555" stroke-width="0.7"/>
<text x="231.69" y="364.50" class="nt">8</text>
<path d="M277.71,345.59 Q278.44,348.30 276.46,350.28 L272.50,354.24 Q270.52,356.22 267.81,355.49 L262.40,354.04 Q259.70,353.32 258.98,350.62 L257.53,345.21 Q256.80,342.50 258.78,340.52 L262.74,336.56 Q264.72,334.58 267.43,335.31 L272.84,336.76 Q275.54,337.48 276.26,340.18 Z" fill="#bfbfbf" stroke="#636363" stroke-width="0.9"/>
<path d="M276.63,345.57 Q277.28,347.99 275.51,349.76 L271.98,353.29 Q270.21,355.06 267.79,354.41 L262.96,353.12 Q260.55,352.47 259.90,350.06 L258.61,345.23 Q257.96,342.81 259.73,341.04 L263.26,337.51 Q265.03,335.74 267.45,336.39 L272.28,337.68 Q274.69,338.33 275.34,340.74 Z" fill="#c4c4c4" stroke="#787878" stroke-width="0.6"/>
<circle cx="267.62" cy="345.4" r="6.9" fill="#d5d5d5" stroke="#666" stroke-width="1.0"/>
<circle cx="267.62" cy="345.4" r="4.6" fill="#d9d9d9" stroke="#808080" stroke-width="0.6"/>
<circle cx="267.62" cy="345.4" r="1.3" fill="#e6e6e6" stroke="#555" stroke-width="0.7"/>
<text x="256.12" y="340.10" class="nt">9</text>
<path d="M277.71,369.99 Q278.44,372.70 276.46,374.68 L272.50,378.64 Q270.52,380.62 267.81,379.89 L262.40,378.44 Q259.70,377.72 258.98,375.02 L257.53,369.61 Q256.80,366.90 258.78,364.92 L262.74,360.96 Q264.72,358.98 267.43,359.71 L272.84,361.16 Q275.54,361.88 276.26,364.58 Z" fill="#bfbfbf" stroke="#636363" stroke-width="0.9"/>
<path d="M276.63,369.97 Q277.28,372.39 275.51,374.16 L271.98,377.69 Q270.21,379.46 267.79,378.81 L262.96,377.52 Q260.55,376.87 259.90,374.46 L258.61,369.63 Q257.96,367.21 259.73,365.44 L263.26,361.91 Q265.03,360.14 267.45,360.79 L272.28,362.08 Q274.69,362.73 275.34,365.14 Z" fill="#c4c4c4" stroke="#787878" stroke-width="0.6"/>
<circle cx="267.62" cy="369.8" r="6.9" fill="#d5d5d5" stroke="#666" stroke-width="1.0"/>
<circle cx="267.62" cy="369.8" r="4.6" fill="#d9d9d9" stroke="#808080" stroke-width="0.6"/>
<circle cx="267.62" cy="369.8" r="1.3" fill="#e6e6e6" stroke="#555" stroke-width="0.7"/>
<text x="256.12" y="364.50" class="nt">10</text>
<path d="M302.14,345.59 Q302.87,348.30 300.89,350.28 L296.93,354.24 Q294.95,356.22 292.24,355.49 L286.83,354.04 Q284.13,353.32 283.41,350.62 L281.96,345.21 Q281.23,342.50 283.21,340.52 L287.17,336.56 Q289.15,334.58 291.86,335.31 L297.27,336.76 Q299.97,337.48 300.69,340.18 Z" fill="#bfbfbf" stroke="#636363" stroke-width="0.9"/>
<path d="M301.06,345.57 Q301.71,347.99 299.94,349.76 L296.41,353.29 Q294.64,355.06 292.22,354.41 L287.39,353.12 Q284.98,352.47 284.33,350.06 L283.04,345.23 Q282.39,342.81 284.16,341.04 L287.69,337.51 Q289.46,335.74 291.88,336.39 L296.71,337.68 Q299.12,338.33 299.77,340.74 Z" fill="#c4c4c4" stroke="#787878" stroke-width="0.6"/>
<circle cx="292.05" cy="345.4" r="6.9" fill="#d5d5d5" stroke="#666" stroke-width="1.0"/>
<circle cx="292.05" cy="345.4" r="4.6" fill="#d9d9d9" stroke="#808080" stroke-width="0.6"/>
<circle cx="292.05" cy="345.4" r="1.3" fill="#e6e6e6" stroke="#555" stroke-width="0.7"/>
<text x="280.55" y="340.10" class="nt">11</text>
<path d="M302.14,369.99 Q302.87,372.70 300.89,374.68 L296.93,378.64 Q294.95,380.62 292.24,379.89 L286.83,378.44 Q284.13,377.72 283.41,375.02 L281.96,369.61 Q281.23,366.90 283.21,364.92 L287.17,360.96 Q289.15,358.98 291.86,359.71 L297.27,361.16 Q299.97,361.88 300.69,364.58 Z" fill="#bfbfbf" stroke="#636363" stroke-width="0.9"/>
<path d="M301.06,369.97 Q301.71,372.39 299.94,374.16 L296.41,377.69 Q294.64,379.46 292.22,378.81 L287.39,377.52 Q284.98,376.87 284.33,374.46 L283.04,369.63 Q282.39,367.21 284.16,365.44 L287.69,361.91 Q289.46,360.14 291.88,360.79 L296.71,362.08 Q299.12,362.73 299.77,365.14 Z" fill="#c4c4c4" stroke="#787878" stroke-width="0.6"/>
<circle cx="292.05" cy="369.8" r="6.9" fill="#d5d5d5" stroke="#666" stroke-width="1.0"/>
<circle cx="292.05" cy="369.8" r="4.6" fill="#d9d9d9" stroke="#808080" stroke-width="0.6"/>
<circle cx="292.05" cy="369.8" r="1.3" fill="#e6e6e6" stroke="#555" stroke-width="0.7"/>
<text x="280.55" y="364.50" class="nt">12</text>
<path d="M326.57,345.59 Q327.30,348.30 325.32,350.28 L321.36,354.24 Q319.38,356.22 316.67,355.49 L311.26,354.04 Q308.56,353.32 307.84,350.62 L306.39,345.21 Q305.66,342.50 307.64,340.52 L311.60,336.56 Q313.58,334.58 316.29,335.31 L321.70,336.76 Q324.40,337.48 325.12,340.18 Z" fill="#bfbfbf" stroke="#636363" stroke-width="0.9"/>
<path d="M325.49,345.57 Q326.14,347.99 324.37,349.76 L320.84,353.29 Q319.07,355.06 316.65,354.41 L311.82,353.12 Q309.41,352.47 308.76,350.06 L307.47,345.23 Q306.82,342.81 308.59,341.04 L312.12,337.51 Q313.89,335.74 316.31,336.39 L321.14,337.68 Q323.55,338.33 324.20,340.74 Z" fill="#c4c4c4" stroke="#787878" stroke-width="0.6"/>
<circle cx="316.48" cy="345.4" r="6.9" fill="#d5d5d5" stroke="#666" stroke-width="1.0"/>
<circle cx="316.48" cy="345.4" r="4.6" fill="#d9d9d9" stroke="#808080" stroke-width="0.6"/>
<circle cx="316.48" cy="345.4" r="1.3" fill="#e6e6e6" stroke="#555" stroke-width="0.7"/>
<text x="304.98" y="340.10" class="nt">13</text>
<path d="M326.57,369.99 Q327.30,372.70 325.32,374.68 L321.36,378.64 Q319.38,380.62 316.67,379.89 L311.26,378.44 Q308.56,377.72 307.84,375.02 L306.39,369.61 Q305.66,366.90 307.64,364.92 L311.60,360.96 Q313.58,358.98 316.29,359.71 L321.70,361.16 Q324.40,361.88 325.12,364.58 Z" fill="#bfbfbf" stroke="#636363" stroke-width="0.9"/>
<path d="M325.49,369.97 Q326.14,372.39 324.37,374.16 L320.84,377.69 Q319.07,379.46 316.65,378.81 L311.82,377.52 Q309.41,376.87 308.76,374.46 L307.47,369.63 Q306.82,367.21 308.59,365.44 L312.12,361.91 Q313.89,360.14 316.31,360.79 L321.14,362.08 Q323.55,362.73 324.20,365.14 Z" fill="#c4c4c4" stroke="#787878" stroke-width="0.6"/>
<circle cx="316.48" cy="369.8" r="6.9" fill="#d5d5d5" stroke="#666" stroke-width="1.0"/>
<circle cx="316.48" cy="369.8" r="4.6" fill="#d9d9d9" stroke="#808080" stroke-width="0.6"/>
<circle cx="316.48" cy="369.8" r="1.3" fill="#e6e6e6" stroke="#555" stroke-width="0.7"/>
<text x="304.98" y="364.50" class="nt">14</text>
<path d="M351.00,345.59 Q351.73,348.30 349.75,350.28 L345.79,354.24 Q343.81,356.22 341.10,355.49 L335.69,354.04 Q332.99,353.32 332.27,350.62 L330.82,345.21 Q330.09,342.50 332.07,340.52 L336.03,336.56 Q338.01,334.58 340.72,335.31 L346.13,336.76 Q348.83,337.48 349.55,340.18 Z" fill="#bfbfbf" stroke="#636363" stroke-width="0.9"/>
<path d="M349.92,345.57 Q350.57,347.99 348.80,349.76 L345.27,353.29 Q343.50,355.06 341.08,354.41 L336.25,353.12 Q333.84,352.47 333.19,350.06 L331.90,345.23 Q331.25,342.81 333.02,341.04 L336.55,337.51 Q338.32,335.74 340.74,336.39 L345.57,337.68 Q347.98,338.33 348.63,340.74 Z" fill="#c4c4c4" stroke="#787878" stroke-width="0.6"/>
<circle cx="340.91" cy="345.4" r="6.9" fill="#d5d5d5" stroke="#666" stroke-width="1.0"/>
<circle cx="340.91" cy="345.4" r="4.6" fill="#d9d9d9" stroke="#808080" stroke-width="0.6"/>
<circle cx="340.91" cy="345.4" r="1.3" fill="#e6e6e6" stroke="#555" stroke-width="0.7"/>
<text x="329.41" y="340.10" class="nt">15</text>
<path d="M351.00,369.99 Q351.73,372.70 349.75,374.68 L345.79,378.64 Q343.81,380.62 341.10,379.89 L335.69,378.44 Q332.99,377.72 332.27,375.02 L330.82,369.61 Q330.09,366.90 332.07,364.92 L336.03,360.96 Q338.01,358.98 340.72,359.71 L346.13,361.16 Q348.83,361.88 349.55,364.58 Z" fill="#bfbfbf" stroke="#636363" stroke-width="0.9"/>
<path d="M349.92,369.97 Q350.57,372.39 348.80,374.16 L345.27,377.69 Q343.50,379.46 341.08,378.81 L336.25,377.52 Q333.84,376.87 333.19,374.46 L331.90,369.63 Q331.25,367.21 333.02,365.44 L336.55,361.91 Q338.32,360.14 340.74,360.79 L345.57,362.08 Q347.98,362.73 348.63,365.14 Z" fill="#c4c4c4" stroke="#787878" stroke-width="0.6"/>
<circle cx="340.91" cy="369.8" r="6.9" fill="#d5d5d5" stroke="#666" stroke-width="1.0"/>
<circle cx="340.91" cy="369.8" r="4.6" fill="#d9d9d9" stroke="#808080" stroke-width="0.6"/>
<circle cx="340.91" cy="369.8" r="1.3" fill="#e6e6e6" stroke="#555" stroke-width="0.7"/>
<text x="329.41" y="364.50" class="nt">16</text>
<path d="M375.43,345.59 Q376.16,348.30 374.18,350.28 L370.22,354.24 Q368.24,356.22 365.53,355.49 L360.12,354.04 Q357.42,353.32 356.70,350.62 L355.25,345.21 Q354.52,342.50 356.50,340.52 L360.46,336.56 Q362.44,334.58 365.15,335.31 L370.56,336.76 Q373.26,337.48 373.98,340.18 Z" fill="#bfbfbf" stroke="#636363" stroke-width="0.9"/>
<path d="M374.35,345.57 Q375.00,347.99 373.23,349.76 L369.70,353.29 Q367.93,355.06 365.51,354.41 L360.68,353.12 Q358.27,352.47 357.62,350.06 L356.33,345.23 Q355.68,342.81 357.45,341.04 L360.98,337.51 Q362.75,335.74 365.17,336.39 L370.00,337.68 Q372.41,338.33 373.06,340.74 Z" fill="#c4c4c4" stroke="#787878" stroke-width="0.6"/>
<circle cx="365.34" cy="345.4" r="6.9" fill="#d5d5d5" stroke="#666" stroke-width="1.0"/>
<circle cx="365.34" cy="345.4" r="4.6" fill="#d9d9d9" stroke="#808080" stroke-width="0.6"/>
<circle cx="365.34" cy="345.4" r="1.3" fill="#e6e6e6" stroke="#555" stroke-width="0.7"/>
<text x="353.84" y="340.10" class="nt">17</text>
<path d="M375.43,369.99 Q376.16,372.70 374.18,374.68 L370.22,378.64 Q368.24,380.62 365.53,379.89 L360.12,378.44 Q357.42,377.72 356.70,375.02 L355.25,369.61 Q354.52,366.90 356.50,364.92 L360.46,360.96 Q362.44,358.98 365.15,359.71 L370.56,361.16 Q373.26,361.88 373.98,364.58 Z" fill="#bfbfbf" stroke="#636363" stroke-width="0.9"/>
<path d="M374.35,369.97 Q375.00,372.39 373.23,374.16 L369.70,377.69 Q367.93,379.46 365.51,378.81 L360.68,377.52 Q358.27,376.87 357.62,374.46 L356.33,369.63 Q355.68,367.21 357.45,365.44 L360.98,361.91 Q362.75,360.14 365.17,360.79 L370.00,362.08 Q372.41,362.73 373.06,365.14 Z" fill="#c4c4c4" stroke="#787878" stroke-width="0.6"/>
<circle cx="365.34" cy="369.8" r="6.9" fill="#d5d5d5" stroke="#666" stroke-width="1.0"/>
<circle cx="365.34" cy="369.8" r="4.6" fill="#d9d9d9" stroke="#808080" stroke-width="0.6"/>
<circle cx="365.34" cy="369.8" r="1.3" fill="#e6e6e6" stroke="#555" stroke-width="0.7"/>
<text x="353.84" y="364.50" class="nt">18</text>
<path d="M399.86,345.59 Q400.59,348.30 398.61,350.28 L394.65,354.24 Q392.67,356.22 389.96,355.49 L384.55,354.04 Q381.85,353.32 381.13,350.62 L379.68,345.21 Q378.95,342.50 380.93,340.52 L384.89,336.56 Q386.87,334.58 389.58,335.31 L394.99,336.76 Q397.69,337.48 398.41,340.18 Z" fill="#bfbfbf" stroke="#636363" stroke-width="0.9"/>
<path d="M398.78,345.57 Q399.43,347.99 397.66,349.76 L394.13,353.29 Q392.36,355.06 389.94,354.41 L385.11,353.12 Q382.70,352.47 382.05,350.06 L380.76,345.23 Q380.11,342.81 381.88,341.04 L385.41,337.51 Q387.18,335.74 389.60,336.39 L394.43,337.68 Q396.84,338.33 397.49,340.74 Z" fill="#c4c4c4" stroke="#787878" stroke-width="0.6"/>
<circle cx="389.77" cy="345.4" r="6.9" fill="#d5d5d5" stroke="#666" stroke-width="1.0"/>
<circle cx="389.77" cy="345.4" r="4.6" fill="#d9d9d9" stroke="#808080" stroke-width="0.6"/>
<circle cx="389.77" cy="345.4" r="1.3" fill="#e6e6e6" stroke="#555" stroke-width="0.7"/>
<text x="378.27" y="340.10" class="nt">19</text>
<path d="M399.86,369.99 Q400.59,372.70 398.61,374.68 L394.65,378.64 Q392.67,380.62 389.96,379.89 L384.55,378.44 Q381.85,377.72 381.13,375.02 L379.68,369.61 Q378.95,366.90 380.93,364.92 L384.89,360.96 Q386.87,358.98 389.58,359.71 L394.99,361.16 Q397.69,361.88 398.41,364.58 Z" fill="#bfbfbf" stroke="#636363" stroke-width="0.9"/>
<path d="M398.78,369.97 Q399.43,372.39 397.66,374.16 L394.13,377.69 Q392.36,379.46 389.94,378.81 L385.11,377.52 Q382.70,376.87 382.05,374.46 L380.76,369.63 Q380.11,367.21 381.88,365.44 L385.41,361.91 Q387.18,360.14 389.60,360.79 L394.43,362.08 Q396.84,362.73 397.49,365.14 Z" fill="#c4c4c4" stroke="#787878" stroke-width="0.6"/>
<circle cx="389.77" cy="369.8" r="6.9" fill="#d5d5d5" stroke="#666" stroke-width="1.0"/>
<circle cx="389.77" cy="369.8" r="4.6" fill="#d9d9d9" stroke="#808080" stroke-width="0.6"/>
<circle cx="389.77" cy="369.8" r="1.3" fill="#e6e6e6" stroke="#555" stroke-width="0.7"/>
<text x="378.27" y="364.50" class="nt">20</text>
<path d="M158.2,382.2 v4.1 h111.3 M290.5,386.3 h111 v-4.1" fill="none" stroke="#3c3c3c" stroke-width="0.8"/>
<text x="280" y="387.3" class="rt">SDI INPUTS</text>
<path d="M429.99,345.59 Q430.72,348.30 428.74,350.28 L424.78,354.24 Q422.80,356.22 420.09,355.49 L414.68,354.04 Q411.98,353.32 411.26,350.62 L409.81,345.21 Q409.08,342.50 411.06,340.52 L415.02,336.56 Q417.00,334.58 419.71,335.31 L425.12,336.76 Q427.82,337.48 428.54,340.18 Z" fill="#bfbfbf" stroke="#636363" stroke-width="0.9"/>
<path d="M428.91,345.57 Q429.56,347.99 427.79,349.76 L424.26,353.29 Q422.49,355.06 420.07,354.41 L415.24,353.12 Q412.83,352.47 412.18,350.06 L410.89,345.23 Q410.24,342.81 412.01,341.04 L415.54,337.51 Q417.31,335.74 419.73,336.39 L424.56,337.68 Q426.97,338.33 427.62,340.74 Z" fill="#c4c4c4" stroke="#787878" stroke-width="0.6"/>
<circle cx="419.9" cy="345.4" r="6.9" fill="#d5d5d5" stroke="#666" stroke-width="1.0"/>
<circle cx="419.9" cy="345.4" r="4.6" fill="#d9d9d9" stroke="#808080" stroke-width="0.6"/>
<circle cx="419.9" cy="345.4" r="1.3" fill="#e6e6e6" stroke="#555" stroke-width="0.7"/>
<text x="408.40" y="340.10" class="nt">1</text>
<path d="M429.99,369.99 Q430.72,372.70 428.74,374.68 L424.78,378.64 Q422.80,380.62 420.09,379.89 L414.68,378.44 Q411.98,377.72 411.26,375.02 L409.81,369.61 Q409.08,366.90 411.06,364.92 L415.02,360.96 Q417.00,358.98 419.71,359.71 L425.12,361.16 Q427.82,361.88 428.54,364.58 Z" fill="#bfbfbf" stroke="#636363" stroke-width="0.9"/>
<path d="M428.91,369.97 Q429.56,372.39 427.79,374.16 L424.26,377.69 Q422.49,379.46 420.07,378.81 L415.24,377.52 Q412.83,376.87 412.18,374.46 L410.89,369.63 Q410.24,367.21 412.01,365.44 L415.54,361.91 Q417.31,360.14 419.73,360.79 L424.56,362.08 Q426.97,362.73 427.62,365.14 Z" fill="#c4c4c4" stroke="#787878" stroke-width="0.6"/>
<circle cx="419.9" cy="369.8" r="6.9" fill="#d5d5d5" stroke="#666" stroke-width="1.0"/>
<circle cx="419.9" cy="369.8" r="4.6" fill="#d9d9d9" stroke="#808080" stroke-width="0.6"/>
<circle cx="419.9" cy="369.8" r="1.3" fill="#e6e6e6" stroke="#555" stroke-width="0.7"/>
<text x="408.40" y="364.50" class="nt">2</text>
<path d="M454.42,345.59 Q455.15,348.30 453.17,350.28 L449.21,354.24 Q447.23,356.22 444.52,355.49 L439.11,354.04 Q436.41,353.32 435.69,350.62 L434.24,345.21 Q433.51,342.50 435.49,340.52 L439.45,336.56 Q441.43,334.58 444.14,335.31 L449.55,336.76 Q452.25,337.48 452.97,340.18 Z" fill="#bfbfbf" stroke="#636363" stroke-width="0.9"/>
<path d="M453.34,345.57 Q453.99,347.99 452.22,349.76 L448.69,353.29 Q446.92,355.06 444.50,354.41 L439.67,353.12 Q437.26,352.47 436.61,350.06 L435.32,345.23 Q434.67,342.81 436.44,341.04 L439.97,337.51 Q441.74,335.74 444.16,336.39 L448.99,337.68 Q451.40,338.33 452.05,340.74 Z" fill="#c4c4c4" stroke="#787878" stroke-width="0.6"/>
<circle cx="444.33" cy="345.4" r="6.9" fill="#d5d5d5" stroke="#666" stroke-width="1.0"/>
<circle cx="444.33" cy="345.4" r="4.6" fill="#d9d9d9" stroke="#808080" stroke-width="0.6"/>
<circle cx="444.33" cy="345.4" r="1.3" fill="#e6e6e6" stroke="#555" stroke-width="0.7"/>
<text x="432.83" y="340.10" class="nt">3</text>
<path d="M454.42,369.99 Q455.15,372.70 453.17,374.68 L449.21,378.64 Q447.23,380.62 444.52,379.89 L439.11,378.44 Q436.41,377.72 435.69,375.02 L434.24,369.61 Q433.51,366.90 435.49,364.92 L439.45,360.96 Q441.43,358.98 444.14,359.71 L449.55,361.16 Q452.25,361.88 452.97,364.58 Z" fill="#bfbfbf" stroke="#636363" stroke-width="0.9"/>
<path d="M453.34,369.97 Q453.99,372.39 452.22,374.16 L448.69,377.69 Q446.92,379.46 444.50,378.81 L439.67,377.52 Q437.26,376.87 436.61,374.46 L435.32,369.63 Q434.67,367.21 436.44,365.44 L439.97,361.91 Q441.74,360.14 444.16,360.79 L448.99,362.08 Q451.40,362.73 452.05,365.14 Z" fill="#c4c4c4" stroke="#787878" stroke-width="0.6"/>
<circle cx="444.33" cy="369.8" r="6.9" fill="#d5d5d5" stroke="#666" stroke-width="1.0"/>
<circle cx="444.33" cy="369.8" r="4.6" fill="#d9d9d9" stroke="#808080" stroke-width="0.6"/>
<circle cx="444.33" cy="369.8" r="1.3" fill="#e6e6e6" stroke="#555" stroke-width="0.7"/>
<text x="432.83" y="364.50" class="nt">4</text>
<path d="M478.85,345.59 Q479.58,348.30 477.60,350.28 L473.64,354.24 Q471.66,356.22 468.95,355.49 L463.54,354.04 Q460.84,353.32 460.12,350.62 L458.67,345.21 Q457.94,342.50 459.92,340.52 L463.88,336.56 Q465.86,334.58 468.57,335.31 L473.98,336.76 Q476.68,337.48 477.40,340.18 Z" fill="#bfbfbf" stroke="#636363" stroke-width="0.9"/>
<path d="M477.77,345.57 Q478.42,347.99 476.65,349.76 L473.12,353.29 Q471.35,355.06 468.93,354.41 L464.10,353.12 Q461.69,352.47 461.04,350.06 L459.75,345.23 Q459.10,342.81 460.87,341.04 L464.40,337.51 Q466.17,335.74 468.59,336.39 L473.42,337.68 Q475.83,338.33 476.48,340.74 Z" fill="#c4c4c4" stroke="#787878" stroke-width="0.6"/>
<circle cx="468.76" cy="345.4" r="6.9" fill="#d5d5d5" stroke="#666" stroke-width="1.0"/>
<circle cx="468.76" cy="345.4" r="4.6" fill="#d9d9d9" stroke="#808080" stroke-width="0.6"/>
<circle cx="468.76" cy="345.4" r="1.3" fill="#e6e6e6" stroke="#555" stroke-width="0.7"/>
<text x="457.26" y="340.10" class="nt">5</text>
<path d="M478.85,369.99 Q479.58,372.70 477.60,374.68 L473.64,378.64 Q471.66,380.62 468.95,379.89 L463.54,378.44 Q460.84,377.72 460.12,375.02 L458.67,369.61 Q457.94,366.90 459.92,364.92 L463.88,360.96 Q465.86,358.98 468.57,359.71 L473.98,361.16 Q476.68,361.88 477.40,364.58 Z" fill="#bfbfbf" stroke="#636363" stroke-width="0.9"/>
<path d="M477.77,369.97 Q478.42,372.39 476.65,374.16 L473.12,377.69 Q471.35,379.46 468.93,378.81 L464.10,377.52 Q461.69,376.87 461.04,374.46 L459.75,369.63 Q459.10,367.21 460.87,365.44 L464.40,361.91 Q466.17,360.14 468.59,360.79 L473.42,362.08 Q475.83,362.73 476.48,365.14 Z" fill="#c4c4c4" stroke="#787878" stroke-width="0.6"/>
<circle cx="468.76" cy="369.8" r="6.9" fill="#d5d5d5" stroke="#666" stroke-width="1.0"/>
<circle cx="468.76" cy="369.8" r="4.6" fill="#d9d9d9" stroke="#808080" stroke-width="0.6"/>
<circle cx="468.76" cy="369.8" r="1.3" fill="#e6e6e6" stroke="#555" stroke-width="0.7"/>
<text x="457.26" y="364.50" class="nt">6</text>
<path d="M503.28,345.59 Q504.01,348.30 502.03,350.28 L498.07,354.24 Q496.09,356.22 493.38,355.49 L487.97,354.04 Q485.27,353.32 484.55,350.62 L483.10,345.21 Q482.37,342.50 484.35,340.52 L488.31,336.56 Q490.29,334.58 493.00,335.31 L498.41,336.76 Q501.11,337.48 501.83,340.18 Z" fill="#bfbfbf" stroke="#636363" stroke-width="0.9"/>
<path d="M502.20,345.57 Q502.85,347.99 501.08,349.76 L497.55,353.29 Q495.78,355.06 493.36,354.41 L488.53,353.12 Q486.12,352.47 485.47,350.06 L484.18,345.23 Q483.53,342.81 485.30,341.04 L488.83,337.51 Q490.60,335.74 493.02,336.39 L497.85,337.68 Q500.26,338.33 500.91,340.74 Z" fill="#c4c4c4" stroke="#787878" stroke-width="0.6"/>
<circle cx="493.19" cy="345.4" r="6.9" fill="#d5d5d5" stroke="#666" stroke-width="1.0"/>
<circle cx="493.19" cy="345.4" r="4.6" fill="#d9d9d9" stroke="#808080" stroke-width="0.6"/>
<circle cx="493.19" cy="345.4" r="1.3" fill="#e6e6e6" stroke="#555" stroke-width="0.7"/>
<text x="481.69" y="340.10" class="nt">7</text>
<path d="M503.28,369.99 Q504.01,372.70 502.03,374.68 L498.07,378.64 Q496.09,380.62 493.38,379.89 L487.97,378.44 Q485.27,377.72 484.55,375.02 L483.10,369.61 Q482.37,366.90 484.35,364.92 L488.31,360.96 Q490.29,358.98 493.00,359.71 L498.41,361.16 Q501.11,361.88 501.83,364.58 Z" fill="#bfbfbf" stroke="#636363" stroke-width="0.9"/>
<path d="M502.20,369.97 Q502.85,372.39 501.08,374.16 L497.55,377.69 Q495.78,379.46 493.36,378.81 L488.53,377.52 Q486.12,376.87 485.47,374.46 L484.18,369.63 Q483.53,367.21 485.30,365.44 L488.83,361.91 Q490.60,360.14 493.02,360.79 L497.85,362.08 Q500.26,362.73 500.91,365.14 Z" fill="#c4c4c4" stroke="#787878" stroke-width="0.6"/>
<circle cx="493.19" cy="369.8" r="6.9" fill="#d5d5d5" stroke="#666" stroke-width="1.0"/>
<circle cx="493.19" cy="369.8" r="4.6" fill="#d9d9d9" stroke="#808080" stroke-width="0.6"/>
<circle cx="493.19" cy="369.8" r="1.3" fill="#e6e6e6" stroke="#555" stroke-width="0.7"/>
<text x="481.69" y="364.50" class="nt">8</text>
<path d="M527.71,345.59 Q528.44,348.30 526.46,350.28 L522.50,354.24 Q520.52,356.22 517.81,355.49 L512.40,354.04 Q509.70,353.32 508.98,350.62 L507.53,345.21 Q506.80,342.50 508.78,340.52 L512.74,336.56 Q514.72,334.58 517.43,335.31 L522.84,336.76 Q525.54,337.48 526.26,340.18 Z" fill="#bfbfbf" stroke="#636363" stroke-width="0.9"/>
<path d="M526.63,345.57 Q527.28,347.99 525.51,349.76 L521.98,353.29 Q520.21,355.06 517.79,354.41 L512.96,353.12 Q510.55,352.47 509.90,350.06 L508.61,345.23 Q507.96,342.81 509.73,341.04 L513.26,337.51 Q515.03,335.74 517.45,336.39 L522.28,337.68 Q524.69,338.33 525.34,340.74 Z" fill="#c4c4c4" stroke="#787878" stroke-width="0.6"/>
<circle cx="517.62" cy="345.4" r="6.9" fill="#d5d5d5" stroke="#666" stroke-width="1.0"/>
<circle cx="517.62" cy="345.4" r="4.6" fill="#d9d9d9" stroke="#808080" stroke-width="0.6"/>
<circle cx="517.62" cy="345.4" r="1.3" fill="#e6e6e6" stroke="#555" stroke-width="0.7"/>
<text x="506.12" y="340.10" class="nt">9</text>
<path d="M527.71,369.99 Q528.44,372.70 526.46,374.68 L522.50,378.64 Q520.52,380.62 517.81,379.89 L512.40,378.44 Q509.70,377.72 508.98,375.02 L507.53,369.61 Q506.80,366.90 508.78,364.92 L512.74,360.96 Q514.72,358.98 517.43,359.71 L522.84,361.16 Q525.54,361.88 526.26,364.58 Z" fill="#bfbfbf" stroke="#636363" stroke-width="0.9"/>
<path d="M526.63,369.97 Q527.28,372.39 525.51,374.16 L521.98,377.69 Q520.21,379.46 517.79,378.81 L512.96,377.52 Q510.55,376.87 509.90,374.46 L508.61,369.63 Q507.96,367.21 509.73,365.44 L513.26,361.91 Q515.03,360.14 517.45,360.79 L522.28,362.08 Q524.69,362.73 525.34,365.14 Z" fill="#c4c4c4" stroke="#787878" stroke-width="0.6"/>
<circle cx="517.62" cy="369.8" r="6.9" fill="#d5d5d5" stroke="#666" stroke-width="1.0"/>
<circle cx="517.62" cy="369.8" r="4.6" fill="#d9d9d9" stroke="#808080" stroke-width="0.6"/>
<circle cx="517.62" cy="369.8" r="1.3" fill="#e6e6e6" stroke="#555" stroke-width="0.7"/>
<text x="506.12" y="364.50" class="nt">10</text>
<path d="M552.14,345.59 Q552.87,348.30 550.89,350.28 L546.93,354.24 Q544.95,356.22 542.24,355.49 L536.83,354.04 Q534.13,353.32 533.41,350.62 L531.96,345.21 Q531.23,342.50 533.21,340.52 L537.17,336.56 Q539.15,334.58 541.86,335.31 L547.27,336.76 Q549.97,337.48 550.69,340.18 Z" fill="#bfbfbf" stroke="#636363" stroke-width="0.9"/>
<path d="M551.06,345.57 Q551.71,347.99 549.94,349.76 L546.41,353.29 Q544.64,355.06 542.22,354.41 L537.39,353.12 Q534.98,352.47 534.33,350.06 L533.04,345.23 Q532.39,342.81 534.16,341.04 L537.69,337.51 Q539.46,335.74 541.88,336.39 L546.71,337.68 Q549.12,338.33 549.77,340.74 Z" fill="#c4c4c4" stroke="#787878" stroke-width="0.6"/>
<circle cx="542.05" cy="345.4" r="6.9" fill="#d5d5d5" stroke="#666" stroke-width="1.0"/>
<circle cx="542.05" cy="345.4" r="4.6" fill="#d9d9d9" stroke="#808080" stroke-width="0.6"/>
<circle cx="542.05" cy="345.4" r="1.3" fill="#e6e6e6" stroke="#555" stroke-width="0.7"/>
<text x="530.55" y="340.10" class="nt">11</text>
<path d="M552.14,369.99 Q552.87,372.70 550.89,374.68 L546.93,378.64 Q544.95,380.62 542.24,379.89 L536.83,378.44 Q534.13,377.72 533.41,375.02 L531.96,369.61 Q531.23,366.90 533.21,364.92 L537.17,360.96 Q539.15,358.98 541.86,359.71 L547.27,361.16 Q549.97,361.88 550.69,364.58 Z" fill="#bfbfbf" stroke="#636363" stroke-width="0.9"/>
<path d="M551.06,369.97 Q551.71,372.39 549.94,374.16 L546.41,377.69 Q544.64,379.46 542.22,378.81 L537.39,377.52 Q534.98,376.87 534.33,374.46 L533.04,369.63 Q532.39,367.21 534.16,365.44 L537.69,361.91 Q539.46,360.14 541.88,360.79 L546.71,362.08 Q549.12,362.73 549.77,365.14 Z" fill="#c4c4c4" stroke="#787878" stroke-width="0.6"/>
<circle cx="542.05" cy="369.8" r="6.9" fill="#d5d5d5" stroke="#666" stroke-width="1.0"/>
<circle cx="542.05" cy="369.8" r="4.6" fill="#d9d9d9" stroke="#808080" stroke-width="0.6"/>
<circle cx="542.05" cy="369.8" r="1.3" fill="#e6e6e6" stroke="#555" stroke-width="0.7"/>
<text x="530.55" y="364.50" class="nt">12</text>
<path d="M408.3,382.2 v4.1 h60.4 M493.4,386.3 h60.5 v-4.1" fill="none" stroke="#3c3c3c" stroke-width="0.8"/>
<text x="481.0" y="387.3" class="rt">SDI OUTPUTS</text>
<path d="M582.59,345.69 Q583.32,348.40 581.34,350.38 L577.38,354.34 Q575.40,356.32 572.69,355.59 L567.28,354.14 Q564.58,353.42 563.86,350.72 L562.41,345.31 Q561.68,342.60 563.66,340.62 L567.62,336.66 Q569.60,334.68 572.31,335.41 L577.72,336.86 Q580.42,337.58 581.14,340.28 Z" fill="#bfbfbf" stroke="#636363" stroke-width="0.9"/>
<path d="M581.51,345.67 Q582.16,348.09 580.39,349.86 L576.86,353.39 Q575.09,355.16 572.67,354.51 L567.84,353.22 Q565.43,352.57 564.78,350.16 L563.49,345.33 Q562.84,342.91 564.61,341.14 L568.14,337.61 Q569.91,335.84 572.33,336.49 L577.16,337.78 Q579.57,338.43 580.22,340.84 Z" fill="#c4c4c4" stroke="#787878" stroke-width="0.6"/>
<circle cx="572.5" cy="345.5" r="6.9" fill="#d5d5d5" stroke="#666" stroke-width="1.0"/>
<circle cx="572.5" cy="345.5" r="4.6" fill="#d9d9d9" stroke="#808080" stroke-width="0.6"/>
<circle cx="572.5" cy="345.5" r="1.3" fill="#e6e6e6" stroke="#555" stroke-width="0.7"/>
<text x="561.00" y="340.20" class="nt">1</text>
<circle cx="606.2" cy="345.7" r="11.0" fill="#d3d3d3" stroke="#606060" stroke-width="0.7"/>
<circle cx="606.2" cy="345.7" r="9.6" fill="#d5d5d5" stroke="#707070" stroke-width="0.6"/>
<circle cx="606.2" cy="345.7" r="7.0" fill="#c4c4c4" stroke="#5e5e5e" stroke-width="0.8"/>
<circle cx="606.2" cy="345.7" r="5.1" fill="#dbdbdb" stroke="#707070" stroke-width="0.7"/>
<text x="592.0" y="340.30" class="rt">CH 1</text>
<path d="M582.59,370.19 Q583.32,372.90 581.34,374.88 L577.38,378.84 Q575.40,380.82 572.69,380.09 L567.28,378.64 Q564.58,377.92 563.86,375.22 L562.41,369.81 Q561.68,367.10 563.66,365.12 L567.62,361.16 Q569.60,359.18 572.31,359.91 L577.72,361.36 Q580.42,362.08 581.14,364.78 Z" fill="#bfbfbf" stroke="#636363" stroke-width="0.9"/>
<path d="M581.51,370.17 Q582.16,372.59 580.39,374.36 L576.86,377.89 Q575.09,379.66 572.67,379.01 L567.84,377.72 Q565.43,377.07 564.78,374.66 L563.49,369.83 Q562.84,367.41 564.61,365.64 L568.14,362.11 Q569.91,360.34 572.33,360.99 L577.16,362.28 Q579.57,362.93 580.22,365.34 Z" fill="#c4c4c4" stroke="#787878" stroke-width="0.6"/>
<circle cx="572.5" cy="370.0" r="6.9" fill="#d5d5d5" stroke="#666" stroke-width="1.0"/>
<circle cx="572.5" cy="370.0" r="4.6" fill="#d9d9d9" stroke="#808080" stroke-width="0.6"/>
<circle cx="572.5" cy="370.0" r="1.3" fill="#e6e6e6" stroke="#555" stroke-width="0.7"/>
<text x="561.00" y="364.70" class="nt">2</text>
<circle cx="606.2" cy="370.2" r="11.0" fill="#d3d3d3" stroke="#606060" stroke-width="0.7"/>
<circle cx="606.2" cy="370.2" r="9.6" fill="#d5d5d5" stroke="#707070" stroke-width="0.6"/>
<circle cx="606.2" cy="370.2" r="7.0" fill="#c4c4c4" stroke="#5e5e5e" stroke-width="0.8"/>
<circle cx="606.2" cy="370.2" r="5.1" fill="#dbdbdb" stroke="#707070" stroke-width="0.7"/>
<text x="592.0" y="364.80" class="rt">CH 2</text>
<text x="572.6" y="387.1" class="rt">MULTIVIEW</text>
<text x="606.3" y="387.1" class="rt">ANALOG AUDIO IN</text>
<line x1="110.0" y1="40" x2="110.0" y2="60" stroke="#0c0c0c" stroke-width="2.1"/>
<circle cx="110.0" cy="64.2" r="3.85" fill="#fff" stroke="#0c0c0c" stroke-width="1.9"/>
<line x1="250" y1="40" x2="250" y2="60" stroke="#0c0c0c" stroke-width="2.1"/>
<circle cx="250" cy="64.2" r="3.85" fill="#fff" stroke="#0c0c0c" stroke-width="1.9"/>
<line x1="441.0" y1="40" x2="441.0" y2="60" stroke="#0c0c0c" stroke-width="2.1"/>
<circle cx="441.0" cy="64.2" r="3.85" fill="#fff" stroke="#0c0c0c" stroke-width="1.9"/>
<line x1="580.0" y1="40" x2="580.0" y2="60" stroke="#0c0c0c" stroke-width="2.1"/>
<circle cx="580.0" cy="64.2" r="3.85" fill="#fff" stroke="#0c0c0c" stroke-width="1.9"/>
<line x1="64" y1="158.5" x2="64" y2="179.2" stroke="#0c0c0c" stroke-width="2.1"/>
<circle cx="64" cy="155" r="3.85" fill="#fff" stroke="#0c0c0c" stroke-width="1.9"/>
<line x1="381.8" y1="158.5" x2="381.8" y2="179.2" stroke="#0c0c0c" stroke-width="2.1"/>
<circle cx="381.8" cy="155" r="3.85" fill="#fff" stroke="#0c0c0c" stroke-width="1.9"/>
<line x1="524.8" y1="158.5" x2="524.8" y2="179.2" stroke="#0c0c0c" stroke-width="2.1"/>
<circle cx="524.8" cy="155" r="3.85" fill="#fff" stroke="#0c0c0c" stroke-width="1.9"/>
<line x1="608.7" y1="158.5" x2="608.7" y2="179.2" stroke="#0c0c0c" stroke-width="2.1"/>
<circle cx="608.7" cy="155" r="3.85" fill="#fff" stroke="#0c0c0c" stroke-width="1.9"/>
<line x1="139.8" y1="260.9" x2="139.8" y2="311" stroke="#0c0c0c" stroke-width="2.1"/>
<circle cx="139.8" cy="314.9" r="3.85" fill="#fff" stroke="#0c0c0c" stroke-width="1.9"/>
<line x1="111.8" y1="290.8" x2="111.8" y2="311" stroke="#0c0c0c" stroke-width="2.1"/>
<circle cx="111.8" cy="314.9" r="3.85" fill="#fff" stroke="#0c0c0c" stroke-width="1.9"/>
<line x1="570.8" y1="290.9" x2="570.8" y2="311" stroke="#0c0c0c" stroke-width="2.1"/>
<circle cx="570.8" cy="314.9" r="3.85" fill="#fff" stroke="#0c0c0c" stroke-width="1.9"/>
<line x1="69.8" y1="410" x2="69.8" y2="429.7" stroke="#0c0c0c" stroke-width="2.1"/>
<circle cx="69.8" cy="406.1" r="3.85" fill="#fff" stroke="#0c0c0c" stroke-width="1.9"/>
<line x1="139.7" y1="410" x2="139.7" y2="429.7" stroke="#0c0c0c" stroke-width="2.1"/>
<circle cx="139.7" cy="406.1" r="3.85" fill="#fff" stroke="#0c0c0c" stroke-width="1.9"/>
<line x1="281" y1="410" x2="281" y2="429.7" stroke="#0c0c0c" stroke-width="2.1"/>
<circle cx="281" cy="406.1" r="3.85" fill="#fff" stroke="#0c0c0c" stroke-width="1.9"/>
<line x1="481.1" y1="410" x2="481.1" y2="429.7" stroke="#0c0c0c" stroke-width="2.1"/>
<circle cx="481.1" cy="406.1" r="3.85" fill="#fff" stroke="#0c0c0c" stroke-width="1.9"/>
<line x1="606.4" y1="410" x2="606.4" y2="429.7" stroke="#0c0c0c" stroke-width="2.1"/>
<circle cx="606.4" cy="406.1" r="3.85" fill="#fff" stroke="#0c0c0c" stroke-width="1.9"/>
<line x1="112" y1="410" x2="112" y2="469.5" stroke="#0c0c0c" stroke-width="2.1"/>
<circle cx="112" cy="406.1" r="3.85" fill="#fff" stroke="#0c0c0c" stroke-width="1.9"/>
<text x="75.24" y="12.7" textLength="71.97" lengthAdjust="spacingAndGlyphs" class="lb">Talkback and</text>
<text x="51.35" y="29.7" textLength="118.99" lengthAdjust="spacingAndGlyphs" class="lb">Program Mix Buttons</text>
<text x="231.05" y="12.7" textLength="38.55" lengthAdjust="spacingAndGlyphs" class="lb">Source</text>
<text x="210.41" y="29.7" textLength="80.24" lengthAdjust="spacingAndGlyphs" class="lb">Select Buttons</text>
<text x="410.05" y="12.7" textLength="63.49" lengthAdjust="spacingAndGlyphs" class="lb">Source and</text>
<text x="395.67" y="29.7" textLength="92.12" lengthAdjust="spacingAndGlyphs" class="lb">Control&#160; Buttons</text>
<text x="551.86" y="12.7" textLength="57.36" lengthAdjust="spacingAndGlyphs" class="lb">Spin Knob</text>
<text x="559.85" y="29.7" textLength="41.79" lengthAdjust="spacingAndGlyphs" class="lb">Control</text>
<text x="39.47" y="196.9" textLength="46.88" lengthAdjust="spacingAndGlyphs" class="lb">Talkback</text>
<text x="30.75" y="214.1" textLength="64.31" lengthAdjust="spacingAndGlyphs" class="lb">Connection</text>
<text x="344.04" y="196.9" textLength="73.16" lengthAdjust="spacingAndGlyphs" class="lb">Cut and Auto</text>
<text x="358.60" y="214.1" textLength="44.38" lengthAdjust="spacingAndGlyphs" class="lb">Buttons</text>
<text x="490.21" y="196.9" textLength="66.13" lengthAdjust="spacingAndGlyphs" class="lb">LCD Display</text>
<text x="582.55" y="196.9" textLength="50.45" lengthAdjust="spacingAndGlyphs" class="lb">Lock and</text>
<text x="567.96" y="214.1" textLength="80.00" lengthAdjust="spacingAndGlyphs" class="lb">Menu Buttons</text>
<text x="117.23" y="250.7" textLength="47.15" lengthAdjust="spacingAndGlyphs" class="lb">Talkback</text>
<text x="91.97" y="280.6" textLength="41.29" lengthAdjust="spacingAndGlyphs" class="lb">Control</text>
<text x="542.61" y="280.7" textLength="57.78" lengthAdjust="spacingAndGlyphs" class="lb">Multi View</text>
<text x="43.87" y="449.5" textLength="52.90" lengthAdjust="spacingAndGlyphs" class="lb">AC Power</text>
<text x="55.13" y="466.5" textLength="29.67" lengthAdjust="spacingAndGlyphs" class="lb">Input</text>
<text x="95.26" y="490.1" textLength="34.78" lengthAdjust="spacingAndGlyphs" class="lb">USB-C</text>
<text x="130.09" y="449.5" textLength="20.81" lengthAdjust="spacingAndGlyphs" class="lb">REF</text>
<text x="134.32" y="466.5" textLength="11.23" lengthAdjust="spacingAndGlyphs" class="lb">In</text>
<text x="222.24" y="449.5" textLength="118.18" lengthAdjust="spacingAndGlyphs" class="lb">Standards Converted</text>
<text x="240.23" y="466.5" textLength="82.96" lengthAdjust="spacingAndGlyphs" class="lb">12G-SDI Inputs</text>
<text x="413.83" y="449.5" textLength="134.51" lengthAdjust="spacingAndGlyphs" class="lb">Independent Assignable</text>
<text x="435.22" y="466.5" textLength="92.09" lengthAdjust="spacingAndGlyphs" class="lb">12G-SDI Outputs</text>
<text x="587.85" y="449.5" textLength="38.68" lengthAdjust="spacingAndGlyphs" class="lb">Analog</text>
<text x="583.80" y="466.5" textLength="47.53" lengthAdjust="spacingAndGlyphs" class="lb">Audio In</text>
</svg>
</body></html>
